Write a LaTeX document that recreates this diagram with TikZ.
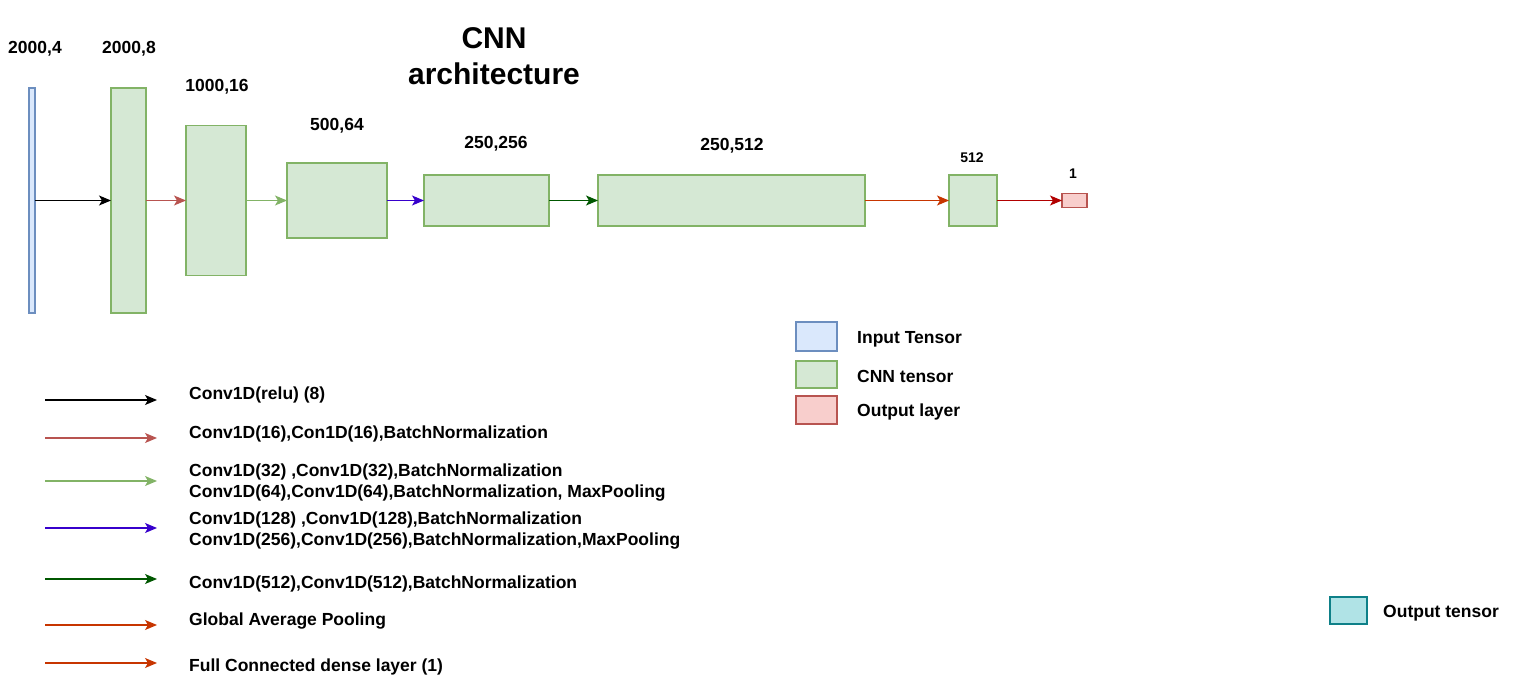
\documentclass[tikz,border=0pt]{standalone}
\usepackage{fontspec}
\setmainfont{Liberation Sans}
\usetikzlibrary{arrows.meta}
\definecolor{inFill}{HTML}{DAE8FC}\definecolor{inLine}{HTML}{6C8EBF}
\definecolor{cnnFill}{HTML}{D5E8D4}\definecolor{cnnLine}{HTML}{82B366}
\definecolor{outFill}{HTML}{F8CECC}\definecolor{outLine}{HTML}{B85450}
\definecolor{otFill}{HTML}{B0E3E6}\definecolor{otLine}{HTML}{0E8088}
\definecolor{cRed}{HTML}{B85450}\definecolor{cGreen}{HTML}{82B366}
\definecolor{cBlue}{HTML}{3700CC}\definecolor{cDkGreen}{HTML}{005700}
\definecolor{cOrange}{HTML}{C73500}\definecolor{cDkRed}{HTML}{B20000}
\tikzset{
  box/.style={draw, line width=1.2pt, inner sep=0pt, outer sep=0pt},
  tensor/.style={box, fill=inFill, draw=inLine},
  cnn/.style={box, fill=cnnFill, draw=cnnLine},
  outl/.style={box, fill=outFill, draw=outLine},
  outt/.style={box, fill=otFill, draw=otLine},
  lbl/.style={font=\fontsize{17.5}{20}\selectfont\bfseries, inner sep=0pt},
  slbl/.style={font=\fontsize{14}{16}\selectfont\bfseries, inner sep=0pt},
  leg/.style={font=\fontsize{17.5}{21}\selectfont\bfseries, inner sep=0pt, anchor=west, align=left},
  arr/.style={line width=1.2pt, -{Stealth[length=12pt,width=10pt,inset=3pt]}},
}
\begin{document}
\begin{tikzpicture}[x=1pt,y=-1pt]
\useasboundingbox (0,0) rectangle (1524,693);
% title
\node[font=\fontsize{30}{36}\selectfont\bfseries, align=center, inner sep=0pt] (title) at (494,56) {CNN\\architecture};
% tensors
\node[tensor, minimum width=6pt, minimum height=225pt] (in) at (32,200.5) {};
\node[cnn, minimum width=35pt, minimum height=225pt] (b1) at (128.5,200.5) {};
\node[cnn, minimum width=60pt, minimum height=150pt] (b2) at (216,200.5) {};
\node[cnn, minimum width=100pt, minimum height=75pt] (b3) at (337,200.5) {};
\node[cnn, minimum width=125pt, minimum height=51pt] (b4) at (486.5,200.5) {};
\node[cnn, minimum width=267pt, minimum height=51pt] (b5) at (731.5,200.5) {};
\node[cnn, minimum width=48pt, minimum height=51pt] (b6) at (973,200.5) {};
\node[outl, minimum width=25pt, minimum height=14pt] (o) at (1074.5,200.5) {};
% labels
\node[lbl] (l0) at (35,49) {2000,4};
\node[lbl] (l1) at (129,49) {2000,8};
\node[lbl] (l2) at (217,87) {1000,16};
\node[lbl] (l3) at (337,126) {500,64};
\node[lbl] (l4) at (496,144) {250,256};
\node[lbl] (l5) at (732,146) {250,512};
\node[slbl] (l6) at (972,158) {512};
\node[slbl] (l7) at (1073,174) {1};
% connectors
\draw[arr, black] (in.east) -- (b1.west);
\draw[arr, cRed] (b1.east) -- (b2.west);
\draw[arr, cGreen] (b2.east) -- (b3.west);
\draw[arr, cBlue] (b3.east) -- (b4.west);
\draw[arr, cDkGreen] (b4.east) -- (b5.west);
\draw[arr, cOrange] (b5.east) -- (b6.west);
\draw[arr, cDkRed] (b6.east) -- (o.west);
% legend arrows
\coordinate (a1s) at (45,400); \coordinate (a1e) at (157,400);
\coordinate (a2s) at (45,438); \coordinate (a2e) at (157,438);
\coordinate (a3s) at (45,481); \coordinate (a3e) at (157,481);
\coordinate (a4s) at (45,528); \coordinate (a4e) at (157,528);
\coordinate (a5s) at (45,579); \coordinate (a5e) at (157,579);
\coordinate (a6s) at (45,625); \coordinate (a6e) at (157,625);
\coordinate (a7s) at (45,663); \coordinate (a7e) at (157,663);
\draw[arr, black] (a1s) -- (a1e);
\draw[arr, cRed] (a2s) -- (a2e);
\draw[arr, cGreen] (a3s) -- (a3e);
\draw[arr, cBlue] (a4s) -- (a4e);
\draw[arr, cDkGreen] (a5s) -- (a5e);
\draw[arr, cOrange] (a6s) -- (a6e);
\draw[arr, cOrange] (a7s) -- (a7e);
\node[leg] (t1) at (189,395) {Conv1D(relu) (8)};
\node[leg] (t2) at (189,434) {Conv1D(16),Con1D(16),BatchNormalization};
\node[leg] (t3) at (189,483) {Conv1D(32) ,Conv1D(32),BatchNormalization\\Conv1D(64),Conv1D(64),BatchNormalization, MaxPooling};
\node[leg] (t4) at (189,531) {Conv1D(128) ,Conv1D(128),BatchNormalization\\Conv1D(256),Conv1D(256),BatchNormalization,MaxPooling};
\node[leg] (t5) at (189,584) {Conv1D(512),Conv1D(512),BatchNormalization};
\node[leg] (t6) at (189,621) {Global Average Pooling};
\node[leg] (t7) at (189,667) {Full Connected dense layer (1)};
% colour legend
\node[tensor, minimum width=41pt, minimum height=29pt] (k1) at (816.5,336.5) {};
\node[cnn, minimum width=41pt, minimum height=27pt] (k2) at (816.5,374.5) {};
\node[outl, minimum width=41pt, minimum height=28pt] (k3) at (816.5,410) {};
\node[outt, minimum width=37pt, minimum height=27pt] (k4) at (1348.5,610.5) {};
\node[leg] (kt1) at (857,339) {Input Tensor};
\node[leg] (kt2) at (857,376) {CNN tensor};
\node[leg] (kt3) at (857,412) {Output layer};
\node[leg] (kt4) at (1383,613) {Output tensor};
\end{tikzpicture}
\end{document}
